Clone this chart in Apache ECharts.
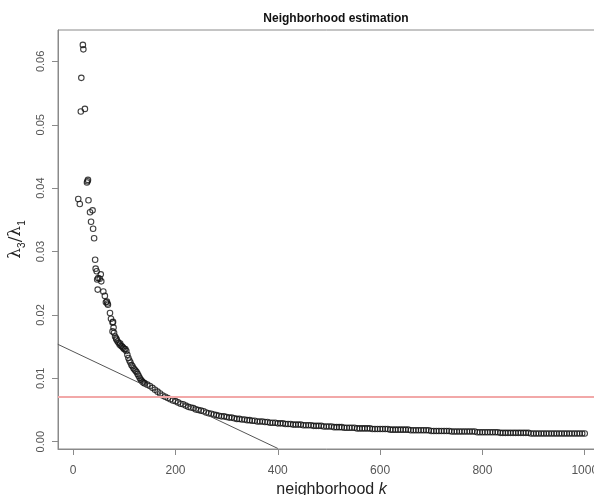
<!DOCTYPE html>
<html>
<head>
<meta charset="utf-8">
<title>Neighborhood estimation</title>
<script src="https://cdn.jsdelivr.net/npm/echarts@6/dist/echarts.min.js"></script>
<style>
  html, body { margin: 0; padding: 0; background: #fff; }
  #chart { width: 594px; height: 495px; }
</style>
</head>
<body>
<div id="chart"></div>
<script>
// sparse start of the curve, read point by point (k, ratio)
const earlyK = [10, 13, 15, 16, 19, 20, 23, 27, 28, 29, 30, 33, 35, 38, 39, 41, 43, 44, 46, 47,
  48, 49, 52, 54, 55, 59, 62, 64, 66, 67, 68, 72, 74, 77, 77, 78, 79, 80, 82, 84,
  85, 87, 89, 91, 92, 94, 96, 98, 100, 102, 104, 106, 108, 110, 112, 114, 116, 118, 120, 122,
  124, 126, 128, 130, 132, 134, 136, 138];
const earlyRatio = [0.0383, 0.0375, 0.0521, 0.0574, 0.0626, 0.0619, 0.0525, 0.0409, 0.0411, 0.0413,
  0.0381, 0.0362, 0.0347, 0.0365, 0.0336, 0.0321, 0.0287, 0.0273, 0.0269, 0.0256,
  0.0240, 0.0258, 0.0257, 0.0264, 0.0253, 0.0237, 0.0230, 0.0220, 0.0221, 0.0218,
  0.0216, 0.0203, 0.0194, 0.0188, 0.0174, 0.0189, 0.0180, 0.0172, 0.0166, 0.0163,
  0.0161, 0.0158, 0.0156, 0.0153, 0.0155, 0.0151, 0.0150, 0.0148, 0.0146, 0.0146,
  0.0143, 0.0137, 0.0132, 0.0128, 0.0125, 0.0121, 0.0119, 0.0116, 0.0114, 0.0112,
  0.0110, 0.0107, 0.0104, 0.0101, 0.0098, 0.0096, 0.0094, 0.0093];

// dense tail, k = 140, 145, ... 1000
const tailStart = 140;
const tailStep = 5;
const tailRatio = [
  0.0092, 0.0090, 0.0088, 0.0085, 0.0082, 0.0079, 0.0076, 0.0073, 0.0071, 0.0069,
  0.0067, 0.0065, 0.0064, 0.0062, 0.0060, 0.0059, 0.0057, 0.0055, 0.0054, 0.0053,
  0.0051, 0.0050, 0.0049, 0.0048, 0.0046, 0.0045, 0.0044, 0.0043, 0.0042, 0.0041,
  0.0040, 0.0040, 0.0039, 0.0038, 0.0038, 0.0037, 0.0036, 0.0036, 0.0035, 0.0035,
  0.0034, 0.0034, 0.0033, 0.0033, 0.0032, 0.0032, 0.0032, 0.0031, 0.0031, 0.0030,
  0.0030, 0.0030, 0.0029, 0.0029, 0.0029, 0.0028, 0.0028, 0.0028, 0.0027, 0.0027,
  0.0027, 0.0027, 0.0026, 0.0026, 0.0026, 0.0026, 0.0025, 0.0025, 0.0025, 0.0025,
  0.0024, 0.0024, 0.0024, 0.0024, 0.0023, 0.0023, 0.0023, 0.0023, 0.0022, 0.0022,
  0.0022, 0.0022, 0.0022, 0.0021, 0.0021, 0.0021, 0.0021, 0.0021, 0.0021, 0.0020,
  0.0020, 0.0020, 0.0020, 0.0020, 0.0020, 0.0020, 0.0019, 0.0019, 0.0019, 0.0019,
  0.0019, 0.0019, 0.0019, 0.0019, 0.0018, 0.0018, 0.0018, 0.0018, 0.0018, 0.0018,
  0.0018, 0.0018, 0.0017, 0.0017, 0.0017, 0.0017, 0.0017, 0.0017, 0.0017, 0.0017,
  0.0016, 0.0016, 0.0016, 0.0016, 0.0016, 0.0016, 0.0016, 0.0016, 0.0016, 0.0016,
  0.0015, 0.0015, 0.0015, 0.0015, 0.0015, 0.0015, 0.0015, 0.0015, 0.0015, 0.0014,
  0.0014, 0.0014, 0.0014, 0.0014, 0.0014, 0.0014, 0.0014, 0.0014, 0.0014, 0.0014,
  0.0014, 0.0013, 0.0013, 0.0013, 0.0013, 0.0013, 0.0013, 0.0013, 0.0013, 0.0013,
  0.0013, 0.0013, 0.0013, 0.0013, 0.0013, 0.0013, 0.0013, 0.0013, 0.0013, 0.0013,
  0.0013, 0.0013, 0.0013
];

// reference lines
const thresholdRatio = [0.0071];
const fitLineK = [-30, 400];
const fitLineRatio = [0.01537, -0.00106];

// tick labels
const xTicks = [0, 200, 400, 600, 800, 1000];
const yTicks = [0, 0.01, 0.02, 0.03, 0.04, 0.05, 0.06];

const points = earlyK.map((k, i) => [k, earlyRatio[i]])
  .concat(tailRatio.map((v, i) => [tailStart + i * tailStep, v]));
const fitLine = fitLineK.map((k, i) => [k, fitLineRatio[i]]);

const axisGrey = '#8a8a8a';
const labelGrey = '#555';

const chart = echarts.init(document.getElementById('chart'));
chart.setOption({
  animation: false,
  backgroundColor: '#fff',
  title: {
    text: 'Neighborhood estimation',
    left: 331,
    top: 8,
    textAlign: 'center',
    textStyle: { fontFamily: 'Liberation Sans', fontWeight: 'bold', fontSize: 12, color: '#111' }
  },
  grid: {
    left: 58, top: 30, right: -11, bottom: 46,
    outerBoundsMode: 'none',
    containLabel: false,
    show: true, borderColor: axisGrey, borderWidth: 1, backgroundColor: 'transparent'
  },
  xAxis: {
    type: 'value',
    min: -29.6,
    max: 1039.6,
    splitLine: { show: false },
    axisLine: { show: true, onZero: false, lineStyle: { color: axisGrey } },
    axisTick: { show: true, length: 6, customValues: xTicks, lineStyle: { color: axisGrey } },
    axisLabel: {
      customValues: xTicks, margin: 16, color: labelGrey,
      fontFamily: 'Liberation Sans', fontSize: 12,
      formatter: v => String(v)
    },
    name: 'neighborhood {i|k}',
    nameLocation: 'middle',
    nameGap: 29,
    nameTextStyle: {
      fontFamily: 'Liberation Sans', fontSize: 16, color: '#222',
      rich: { i: { fontFamily: 'Liberation Sans', fontSize: 16, fontStyle: 'italic', color: '#222' } }
    }
  },
  yAxis: {
    type: 'value',
    min: -0.00115,
    max: 0.06495,
    splitLine: { show: false },
    axisLine: { show: true, onZero: false, lineStyle: { color: axisGrey } },
    axisTick: { show: true, length: 6, customValues: yTicks, lineStyle: { color: axisGrey } },
    axisLabel: {
      customValues: yTicks, rotate: 90, margin: 12, color: labelGrey,
      fontFamily: 'Liberation Sans', fontSize: 11,
      formatter: v => v.toFixed(2)
    },
    name: '{l|λ}{s|3}{l|/λ}{s|1}',
    nameLocation: 'middle',
    nameGap: 30,
    nameTextStyle: {
      color: '#222',
      rich: {
        l: { fontFamily: 'DejaVu Serif', fontSize: 17, color: '#222', verticalAlign: 'middle', lineHeight: 24 },
        s: { fontFamily: 'Liberation Sans', fontSize: 10, color: '#222', verticalAlign: 'bottom', lineHeight: 24 }
      }
    }
  },
  series: [
    {
      type: 'line',
      data: fitLine,
      showSymbol: false,
      silent: true,
      clip: true,
      lineStyle: { color: '#555', width: 1 },
      markLine: {
        silent: true,
        symbol: 'none',
        precision: 6,
        label: { show: false },
        lineStyle: { color: '#f2a8a8', width: 2, type: 'solid' },
        data: thresholdRatio.map(v => ({ yAxis: v }))
      }
    },
    {
      type: 'scatter',
      data: points,
      symbol: 'circle',
      symbolSize: 5.5,
      itemStyle: { color: 'rgba(0,0,0,0)', borderColor: '#111', borderWidth: 1.1 }
    }
  ]
});
</script>
</body>
</html>
